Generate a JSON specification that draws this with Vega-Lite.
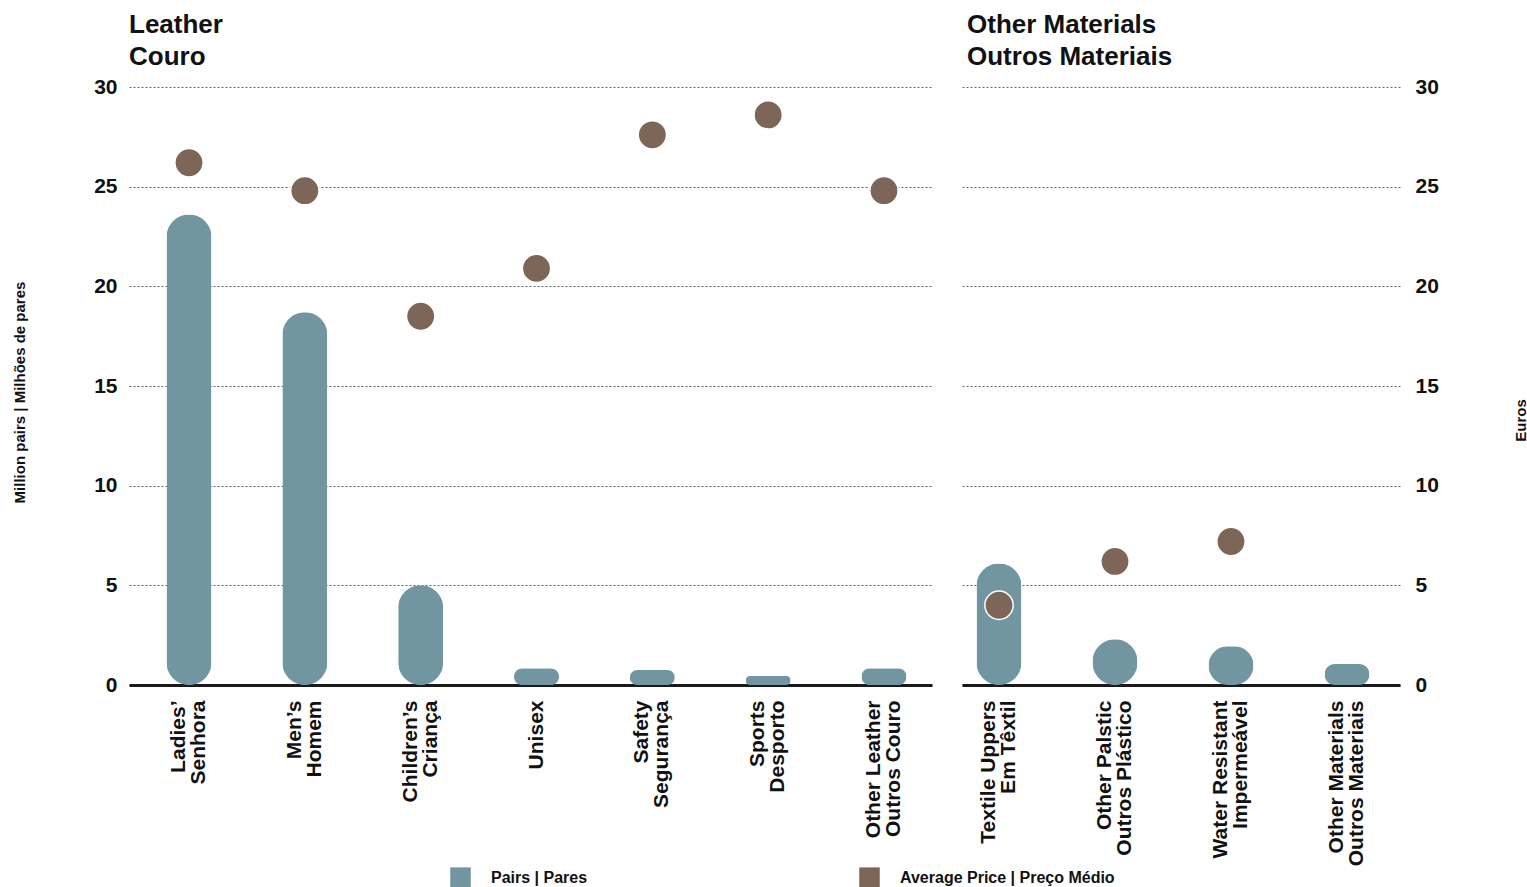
{
  "$schema": "https://vega.github.io/schema/vega-lite/v6.json",
  "background": "white",
  "padding": {"left": 12, "top": 12, "right": 0, "bottom": 0},
  "datasets": {
    "footwear": [
      {"group": "Leather", "category": "Ladies’|Senhora", "pairs": 23.6, "price": 26.2},
      {"group": "Leather", "category": "Men’s|Homem", "pairs": 18.7, "price": 24.8},
      {"group": "Leather", "category": "Children’s|Criança", "pairs": 5.0, "price": 18.5},
      {"group": "Leather", "category": "Unisex", "pairs": 0.84, "price": 20.9},
      {"group": "Leather", "category": "Safety|Segurança", "pairs": 0.75, "price": 27.6},
      {"group": "Leather", "category": "Sports|Desporto", "pairs": 0.45, "price": 28.6},
      {"group": "Leather", "category": "Other Leather|Outros Couro", "pairs": 0.84, "price": 24.8},
      {"group": "Other", "category": "Textile Uppers|Em Têxtil", "pairs": 6.1, "price": 4.0},
      {"group": "Other", "category": "Other Palstic|Outros Plástico", "pairs": 2.3, "price": 6.2},
      {"group": "Other", "category": "Water Resistant|Impermeável", "pairs": 1.95, "price": 7.2},
      {"group": "Other", "category": "Other Materials|Outros Materiais", "pairs": 1.05, "price": null}
    ]
  },
  "data": {"name": "footwear"},
  "spacing": 30,
  "resolve": {"scale": {"x": "independent", "y": "independent"}},
  "hconcat": [
    {
      "width": 803,
      "height": 598,
      "title": {"text": ["Leather", "Couro"]},
      "transform": [{"filter": "datum.group === 'Leather'"}],
      "encoding": {
        "x": {
          "field": "category",
          "type": "nominal",
          "sort": null,
          "scale": {"paddingInner": 0.5, "paddingOuter": 0.2163, "align": 0.62},
          "axis": {
            "title": null,
            "labelAngle": -90,
            "labelAlign": "right",
            "labelBaseline": "middle",
            "labelFontSize": 21,
            "labelFontWeight": "bold",
            "labelLineHeight": 20,
            "labelPadding": 15,
            "labelLimit": 400,
            "labelOffset": {"condition": {"test": "indexof(datum.value, '|') < 0", "value": 0}, "value": -10},
            "labelExpr": "split(datum.value, '|')",
            "ticks": false,
            "grid": false,
            "domain": true,
            "domainColor": "#1a1a1a",
            "domainWidth": 3
          }
        }
      },
      "layer": [
        {
          "mark": {"type": "bar", "width": 45, "cornerRadius": 22.5},
          "encoding": {
            "y": {
              "field": "pairs",
              "type": "quantitative",
              "scale": {"domain": [0, 30]},
              "axis": {
                "orient": "left",
                "values": [0, 5, 10, 15, 20, 25, 30],
                "labelFontSize": 21,
                "labelFontWeight": "bold",
                "labelPadding": 12,
                "ticks": false,
                "domain": false,
                "grid": true,
                "gridColor": "#666666",
                "gridDash": [2, 2],
                "gridWidth": 1,
                "title": "Million pairs | Milhões de pares",
                "titleFontSize": 15,
                "titleFontWeight": "bold",
                "titlePadding": 66,
                "titleY": 305
              }
            },
            "color": {
              "datum": "Pairs | Pares",
              "scale": {"domain": ["Pairs | Pares", "Average Price | Preço Médio"], "range": ["#7296a1", "#7d6657"]}
            }
          }
        },
        {
          "mark": {"type": "point", "filled": true, "size": 800, "opacity": 1, "stroke": "white", "strokeWidth": 1.5},
          "encoding": {
            "y": {"field": "price", "type": "quantitative", "axis": {"title": "Million pairs | Milhões de pares"}},
            "color": {
              "datum": "Average Price | Preço Médio",
              "scale": {"domain": ["Pairs | Pares", "Average Price | Preço Médio"], "range": ["#7296a1", "#7d6657"]}
            }
          }
        }
      ]
    },
    {
      "width": 438,
      "height": 598,
      "title": {"text": ["Other Materials", "Outros Materiais"], "dx": 5},
      "transform": [{"filter": "datum.group === 'Other'"}],
      "encoding": {
        "x": {
          "field": "category",
          "type": "nominal",
          "sort": null,
          "scale": {"paddingInner": 0.5, "paddingOuter": 0.138, "align": 0.25},
          "axis": {
            "title": null,
            "labelAngle": -90,
            "labelAlign": "right",
            "labelBaseline": "middle",
            "labelFontSize": 21,
            "labelFontWeight": "bold",
            "labelLineHeight": 20,
            "labelPadding": 15,
            "labelLimit": 400,
            "labelOffset": -10,
            "labelExpr": "split(datum.value, '|')",
            "ticks": false,
            "grid": false,
            "domain": true,
            "domainColor": "#1a1a1a",
            "domainWidth": 3
          }
        }
      },
      "layer": [
        {
          "mark": {"type": "bar", "width": 45, "cornerRadius": 22.5},
          "encoding": {
            "y": {
              "field": "pairs",
              "type": "quantitative",
              "scale": {"domain": [0, 30]},
              "axis": {
                "orient": "right",
                "values": [0, 5, 10, 15, 20, 25, 30],
                "labelFontSize": 21,
                "labelFontWeight": "bold",
                "labelPadding": 15,
                "ticks": false,
                "domain": false,
                "grid": true,
                "gridColor": "#666666",
                "gridDash": [2, 2],
                "gridWidth": 1,
                "title": "Euros",
                "titleAngle": 270,
                "titleFontSize": 15,
                "titleFontWeight": "bold",
                "titlePadding": 90,
                "titleY": 333
              }
            },
            "color": {
              "datum": "Pairs | Pares",
              "scale": {"domain": ["Pairs | Pares", "Average Price | Preço Médio"], "range": ["#7296a1", "#7d6657"]}
            }
          }
        },
        {
          "mark": {"type": "point", "filled": true, "size": 800, "opacity": 1, "stroke": "white", "strokeWidth": 1.5},
          "encoding": {
            "y": {"field": "price", "type": "quantitative", "axis": {"title": "Euros"}},
            "color": {
              "datum": "Average Price | Preço Médio",
              "scale": {"domain": ["Pairs | Pares", "Average Price | Preço Médio"], "range": ["#7296a1", "#7d6657"]}
            }
          }
        }
      ]
    }
  ],
  "config": {
    "font": "Liberation Sans",
    "view": {"stroke": null},
    "axis": {"labelColor": "#111111", "titleColor": "#111111"},
    "title": {
      "anchor": "start",
      "frame": "group",
      "fontSize": 26,
      "fontWeight": "bold",
      "color": "#111111",
      "lineHeight": 32,
      "offset": 6
    },
    "legend": {
      "orient": "none",
      "legendX": 321,
      "legendY": 780,
      "direction": "horizontal",
      "title": null,
      "symbolType": "square",
      "symbolSize": 420,
      "symbolStrokeWidth": 0,
      "labelFontSize": 16,
      "labelFontWeight": "bold",
      "labelColor": "#111111",
      "labelOffset": 20,
      "labelLimit": 300,
      "columnPadding": 271
    }
  }
}
